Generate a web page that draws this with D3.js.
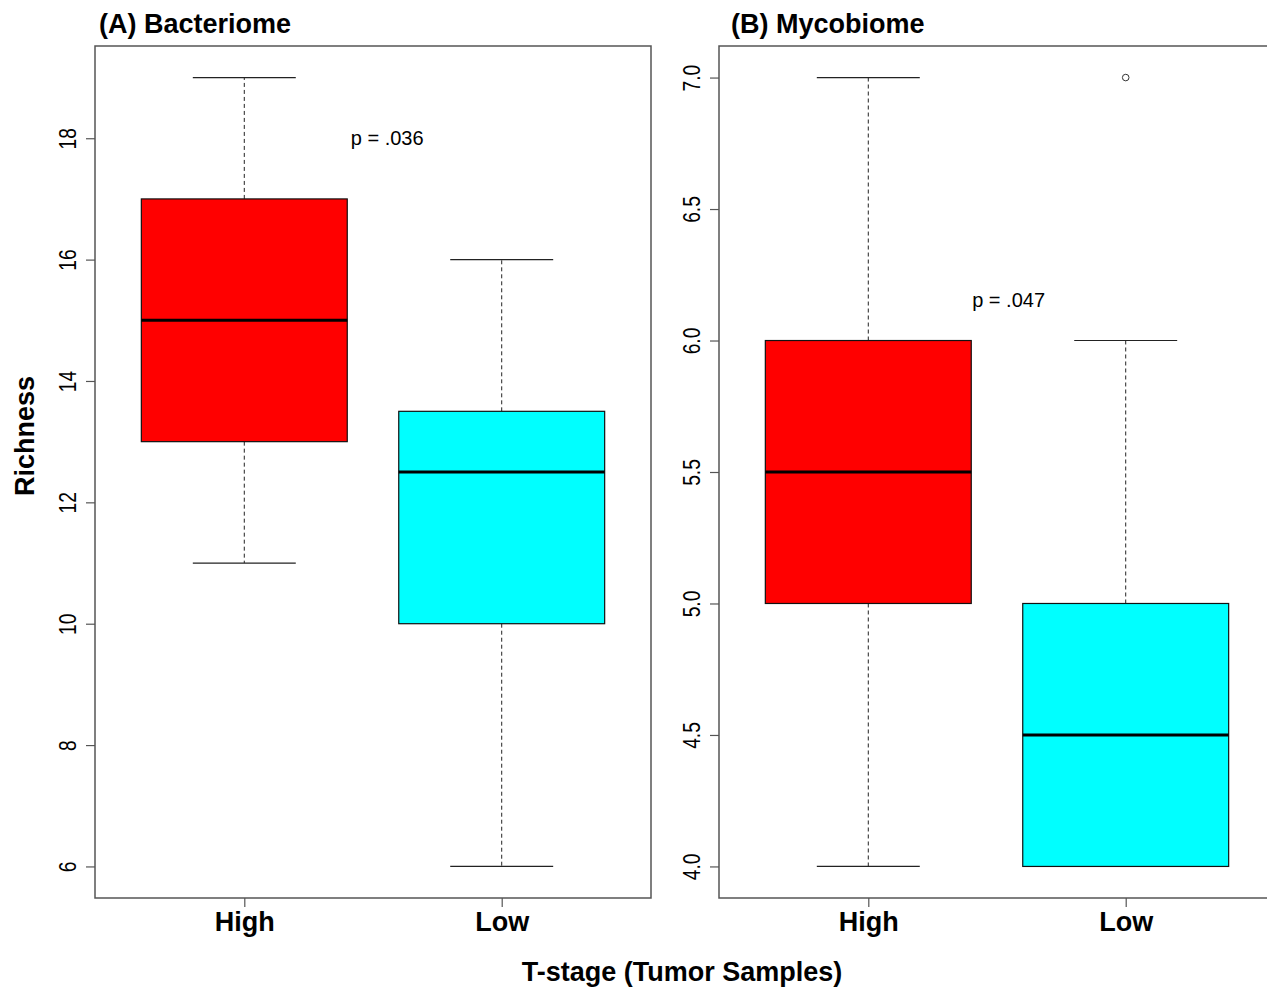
<!DOCTYPE html>
<html><head><meta charset="utf-8">
<script src="https://cdn.jsdelivr.net/npm/d3@7"></script>
<style>body{margin:0;background:#fff}svg{display:block;font-family:"Liberation Sans",Arial,sans-serif}</style>
</head><body><svg id="c" width="1267" height="987"></svg>
<script>
const categories = ["High", "Low"];
const colors = ["#FF0000", "#00FFFF"];
// [min, q1, median, q3, max]
const bacteriomeStats = [[11, 13, 15, 17, 19], [6, 10, 12.5, 13.5, 16]];
const mycobiomeStats = [[4, 5, 5.5, 6, 7], [4, 4, 4.5, 5, 6]];
const bacteriomeOutliers = [[], []];
const mycobiomeOutliers = [[], [7]];
const bacteriomeTicks = [6, 8, 10, 12, 14, 16, 18];
const mycobiomeTicks = [4.0, 4.5, 5.0, 5.5, 6.0, 6.5, 7.0];
const pLabels = [{text: "p = .036", x: 1.555, y: 18}, {text: "p = .047", x: 1.545, y: 6.155}];

const svg = d3.select("#c");
const plotTop = 46, plotBottom = 898;

const panels = [
  {title: "(A) Bacteriome", titleX: 99, left: 95, right: 651, stats: bacteriomeStats, outliers: bacteriomeOutliers, ticks: bacteriomeTicks, fmt: d3.format("d"), p: pLabels[0]},
  {title: "(B) Mycobiome", titleX: 731, left: 719, right: 1275, stats: mycobiomeStats, outliers: mycobiomeOutliers, ticks: mycobiomeTicks, fmt: d3.format(".1f"), p: pLabels[1]}
];

panels.forEach(P => {
  const allv = P.stats.flat().concat(P.outliers.flat());
  const lo = d3.min(allv), hi = d3.max(allv), pad = (hi - lo) * 0.04;
  const y = d3.scaleLinear().domain([lo - pad, hi + pad]).range([plotBottom, plotTop]);
  const x = d3.scaleLinear().domain([0.42, 2.58]).range([P.left, P.right]);
  const g = svg.append("g");
  const bw = x(1.4) - x(1);   // half box width
  const cw = x(1.2) - x(1);   // half cap width

  P.stats.forEach((s, i) => {
    const cx = x(i + 1);
    g.append("line").attr("x1", cx).attr("x2", cx).attr("y1", y(s[3])).attr("y2", y(s[4]))
      .attr("stroke", "#222").attr("stroke-width", 1).attr("stroke-dasharray", "4,3");
    g.append("line").attr("x1", cx).attr("x2", cx).attr("y1", y(s[1])).attr("y2", y(s[0]))
      .attr("stroke", "#222").attr("stroke-width", 1).attr("stroke-dasharray", "4,3");
    [s[0], s[4]].forEach(v => g.append("line").attr("x1", cx - cw).attr("x2", cx + cw)
      .attr("y1", y(v)).attr("y2", y(v)).attr("stroke", "#222").attr("stroke-width", 1.2));
    g.append("rect").attr("x", cx - bw).attr("width", 2 * bw)
      .attr("y", y(s[3])).attr("height", y(s[1]) - y(s[3]))
      .attr("fill", colors[i]).attr("stroke", "#111").attr("stroke-width", 1.2);
    g.append("line").attr("x1", cx - bw).attr("x2", cx + bw).attr("y1", y(s[2])).attr("y2", y(s[2]))
      .attr("stroke", "#000").attr("stroke-width", 3);
    P.outliers[i].forEach(v => g.append("circle").attr("cx", cx).attr("cy", y(v)).attr("r", 3.3)
      .attr("fill", "none").attr("stroke", "#333").attr("stroke-width", 1));
  });

  g.append("rect").attr("x", P.left).attr("y", plotTop).attr("width", P.right - P.left).attr("height", plotBottom - plotTop)
    .attr("fill", "none").attr("stroke", "#555").attr("stroke-width", 1.5);

  const ya = g.append("g").attr("transform", `translate(${P.left},0)`)
    .call(d3.axisLeft(y).tickValues(P.ticks).tickFormat(P.fmt).tickSize(9).tickPadding(0));
  ya.select(".domain").remove();
  ya.selectAll(".tick line").attr("stroke", "#555").attr("stroke-width", 1.2);
  ya.selectAll(".tick text").attr("x", 0).attr("y", 0).attr("dy", null)
    .attr("text-anchor", "middle").attr("font-size", 24).attr("fill", "#000")
    .attr("transform", "translate(-19,0) rotate(-90) scale(0.8,1)");

  const xa = g.append("g").attr("transform", `translate(0,${plotBottom})`)
    .call(d3.axisBottom(x).tickValues([1, 2]).tickFormat(d => categories[d - 1]).tickSize(9).tickPadding(0));
  xa.select(".domain").remove();
  xa.selectAll(".tick line").attr("stroke", "#555").attr("stroke-width", 1.2);
  xa.selectAll(".tick text").attr("y", 33).attr("dy", null).attr("font-size", 27)
    .attr("font-weight", "bold").attr("fill", "#000");

  svg.append("text").attr("x", P.titleX).attr("y", 33).attr("font-size", 27)
    .attr("font-weight", "bold").text(P.title);

  g.append("text").attr("x", x(P.p.x)).attr("y", y(P.p.y)).attr("dy", "0.35em")
    .attr("text-anchor", "middle").attr("font-size", 20).text(P.p.text);
});

svg.append("text").attr("transform", "translate(34,436) rotate(-90)").attr("text-anchor", "middle")
  .attr("font-size", 27).attr("font-weight", "bold").text("Richness");
svg.append("text").attr("x", 682).attr("y", 981).attr("text-anchor", "middle")
  .attr("font-size", 27).attr("font-weight", "bold").text("T-stage (Tumor Samples)");
</script></body></html>
